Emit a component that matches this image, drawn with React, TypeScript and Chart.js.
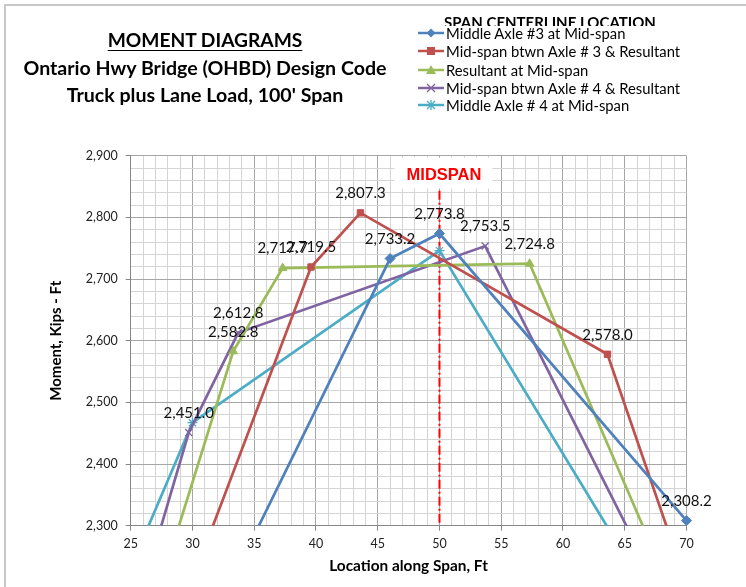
import React, { useEffect, useRef } from 'react';
import { Chart, registerables } from 'chart.js';
Chart.register(...registerables);

// ---- data ----
const SERIES_NAMES = [
  'Middle Axle #3 at Mid-span',
  'Mid-span btwn Axle # 3 & Resultant',
  'Resultant at Mid-span',
  'Mid-span btwn Axle # 4 & Resultant',
  'Middle Axle # 4 at Mid-span',
];
const SERIES_COLORS = ['#4F81BD', '#C0504D', '#9BBB59', '#8064A2', '#4BACC6'];
const SERIES_MARKERS = ['rectRot', 'rect', 'triangle', 'crossRot', 'star'];
const SERIES_LABELED = [true, true, true, true, false];

const AXLE3_X = [34.2, 46, 50, 70];
const AXLE3_Y = [2252, 2733.2, 2773.8, 2308.2];
const MID3_X = [27.8, 39.6, 43.6, 63.6, 83.6];
const MID3_Y = [2096, 2719.5, 2807.3, 2578.0, 1412];
const RESULT_X = [21.5, 33.3, 37.3, 57.3, 77.3];
const RESULT_Y = [1823, 2582.8, 2717.7, 2724.8, 1797];
const MID4_X = [17.9, 29.7, 33.7, 53.7, 73.7];
const MID4_Y = [1649, 2451.0, 2612.8, 2753.5, 1960];
const AXLE4_X = [26, 30, 50, 70];
const AXLE4_Y = [2279, 2467, 2746, 2087];

const SERIES_X = [AXLE3_X, MID3_X, RESULT_X, MID4_X, AXLE4_X];
const SERIES_Y = [AXLE3_Y, MID3_Y, RESULT_Y, MID4_Y, AXLE4_Y];

const X_MIN = 25;
const X_MAX = 70;
const X_MAJOR = 5;
const X_MINOR = 1;
const Y_MIN = 2300;
const Y_MAX = 2900;
const Y_MAJOR = 100;
const Y_MINOR = 20;
const MIDSPAN_X = 50;
const MIDSPAN_TEXT = 'MIDSPAN';

const TITLE_LINES = [
  'MOMENT DIAGRAMS',
  'Ontario Hwy Bridge (OHBD) Design Code',
  "Truck plus Lane Load, 100' Span",
];
const LEGEND_TITLE = 'SPAN CENTERLINE LOCATION';
const X_TITLE = 'Location along Span, Ft';
const Y_TITLE = 'Moment, Kips - Ft';

// ---- layout ----
const W = 746;
const H = 587;
const PLOT_LEFT = 130.7;
const PLOT_TOP = 155.7;
const PLOT_RIGHT = 686.5;
const PLOT_BOTTOM = 525.7;
const FONT = 'Lato, "Open Sans", sans-serif';

const fmt1 = (v: number) =>
  v.toLocaleString('en-US', { minimumFractionDigits: 1, maximumFractionDigits: 1 });

const annotPlugin = {
  id: 'annot',
  beforeDatasetsDraw(chart: any) {
    const { ctx, chartArea, scales } = chart;
    const px = scales.x.getPixelForValue(MIDSPAN_X);
    ctx.save();
    ctx.fillStyle = '#ffffff';
    ctx.fillRect(px - 45, chartArea.top + 2, 98, 31);
    ctx.strokeStyle = '#ff0000';
    ctx.lineWidth = 2;
    ctx.setLineDash([9, 3, 2, 3]);
    ctx.beginPath();
    ctx.moveTo(px, chartArea.top + 35);
    ctx.lineTo(px, chartArea.bottom);
    ctx.stroke();
    ctx.setLineDash([]);
    ctx.fillStyle = '#ff0000';
    ctx.font = 'bold 16.5px "Liberation Sans", Arial, sans-serif';
    ctx.textAlign = 'center';
    ctx.textBaseline = 'middle';
    ctx.fillText(MIDSPAN_TEXT, px + 4.5, chartArea.top + 19.5);
    ctx.restore();
  },
  afterDatasetsDraw(chart: any) {
    const { ctx, scales } = chart;
    ctx.save();
    ctx.fillStyle = '#111';
    ctx.font = `15px ${FONT}`;
    ctx.textAlign = 'center';
    ctx.textBaseline = 'middle';
    chart.data.datasets.forEach((ds: any, i: number) => {
      if (!SERIES_LABELED[i]) return;
      ds.data.forEach((p: any) => {
        if (p.x < X_MIN || p.x > X_MAX || p.y < Y_MIN || p.y > Y_MAX) return;
        const px = scales.x.getPixelForValue(p.x);
        const py = scales.y.getPixelForValue(p.y);
        ctx.fillText(fmt1(p.y), px, py - 19.5);
      });
    });
    ctx.restore();
  },
};

function LegendMarker({ kind, color }: { kind: string; color: string }) {
  const cx = 13, cy = 6;
  let m: any = null;
  if (kind === 'rectRot') m = <polygon points={`${cx},${cy - 4.5} ${cx + 4.5},${cy} ${cx},${cy + 4.5} ${cx - 4.5},${cy}`} fill={color} />;
  else if (kind === 'rect') m = <rect x={cx - 4} y={cy - 4} width={8} height={8} fill={color} />;
  else if (kind === 'triangle') m = <polygon points={`${cx},${cy - 5} ${cx + 5},${cy + 4} ${cx - 5},${cy + 4}`} fill={color} />;
  else if (kind === 'crossRot') m = <path d={`M${cx - 4},${cy - 4}L${cx + 4},${cy + 4}M${cx + 4},${cy - 4}L${cx - 4},${cy + 4}`} stroke={color} strokeWidth={1.3} />;
  else m = <path d={`M${cx - 4},${cy - 4}L${cx + 4},${cy + 4}M${cx + 4},${cy - 4}L${cx - 4},${cy + 4}M${cx},${cy - 5}L${cx},${cy + 5}`} stroke={color} strokeWidth={1.3} />;
  return (
    <svg width={27} height={12} style={{ display: 'block' }}>
      <line x1={0} y1={cy} x2={26} y2={cy} stroke={color} strokeWidth={2.5} />
      {m}
    </svg>
  );
}

export default function App() {
  const ref = useRef<HTMLCanvasElement>(null);
  useEffect(() => {
    const datasets = SERIES_NAMES.map((name, i) => ({
      label: name,
      data: SERIES_X[i].map((x, j) => ({ x, y: SERIES_Y[i][j] })),
      showLine: true,
      borderColor: SERIES_COLORS[i],
      backgroundColor: SERIES_COLORS[i],
      borderWidth: 2.7,
      pointStyle: SERIES_MARKERS[i],
      pointRadius: i === 1 ? 4.5 : 5,
      pointBorderWidth: i >= 3 ? 1.3 : 1,
      pointBorderColor: SERIES_COLORS[i],
      pointBackgroundColor: SERIES_COLORS[i],
      tension: 0,
      clip: i === 0 ? { left: 0, top: 0, right: 8, bottom: 0 } : 0,
    }));
    const majorX = (v: number) => Math.abs(v % X_MAJOR) < 1e-6;
    const majorY = (v: number) => Math.abs(v % Y_MAJOR) < 1e-6;
    const chart = new Chart(ref.current as HTMLCanvasElement, {
      type: 'scatter',
      data: { datasets } as any,
      plugins: [annotPlugin],
      options: {
        responsive: false,
        maintainAspectRatio: false,
        animation: false,
        events: [],
        layout: { padding: { left: 0, top: PLOT_TOP, right: W - PLOT_RIGHT, bottom: 0 } },
        plugins: { legend: { display: false }, tooltip: { enabled: false }, title: { display: false } },
        scales: {
          x: {
            type: 'linear',
            min: X_MIN,
            max: X_MAX,
            afterFit: (s: any) => { s.height = H - PLOT_BOTTOM; },
            ticks: {
              stepSize: X_MINOR,
              autoSkip: false,
              maxRotation: 0,
              minRotation: 0,
              padding: 6,
              color: '#222',
              font: { family: FONT, size: 12.5 },
              callback: (v: any) => (majorX(Number(v)) ? String(v) : ''),
            },
            grid: {
              color: (c: any) => (c.tick && majorX(c.tick.value) ? '#a6a6a6' : '#d4d4d4'),
              tickColor: (c: any) => (c.tick && majorX(c.tick.value) ? '#868686' : 'rgba(0,0,0,0)'),
              tickLength: 5,
              lineWidth: 1,
            },
            border: { color: '#868686', width: 1 },
            title: {
              display: true,
              text: X_TITLE,
              color: '#000',
              font: { family: FONT, size: 15.4, weight: 'bold' },
              padding: { top: 0, bottom: 12 },
            },
          },
          y: {
            type: 'linear',
            min: Y_MIN,
            max: Y_MAX,
            afterFit: (s: any) => { s.width = PLOT_LEFT; },
            ticks: {
              stepSize: Y_MINOR,
              autoSkip: false,
              padding: 8,
              color: '#222',
              font: { family: FONT, size: 12.5 },
              callback: (v: any) => (majorY(Number(v)) ? Number(v).toLocaleString('en-US') : ''),
            },
            grid: {
              color: (c: any) => (c.tick && majorY(c.tick.value) ? '#a6a6a6' : '#d4d4d4'),
              tickColor: (c: any) => (c.tick && majorY(c.tick.value) ? '#868686' : 'rgba(0,0,0,0)'),
              tickLength: 5,
              lineWidth: 1,
            },
            border: { color: '#868686', width: 1 },
            title: {
              display: true,
              text: Y_TITLE,
              color: '#000',
              font: { family: FONT, size: 15, weight: 'bold' },
              padding: { top: 47, bottom: 0 },
            },
          },
        },
      } as any,
    });
    return () => chart.destroy();
  }, []);

  const titleTops = [28, 56, 83];
  const titleStyles: any[] = [
    { fontSize: 19.2, textDecoration: 'underline', textUnderlineOffset: 3 },
    { fontSize: 19.6 },
    { fontSize: 19.6 },
  ];
  const legendTops = [27, 45, 64, 82, 99];

  return (
    <div style={{ position: 'fixed', left: 0, top: 0, width: W, height: H, background: '#fff', overflow: 'hidden', fontFamily: FONT }}>
      <div style={{ position: 'absolute', left: 4, top: 4, right: -10, bottom: -10, borderLeft: '2px solid #c8c8c8', borderTop: '2px solid #c8c8c8' }} />
      <canvas ref={ref} width={W} height={H} style={{ position: 'absolute', left: 0, top: 0, width: W, height: H }} />
      {TITLE_LINES.map((t, i) => (
        <div key={t} style={{ position: 'absolute', left: 0, width: 410, top: titleTops[i], lineHeight: '24px', textAlign: 'center', fontWeight: 700, color: '#000', whiteSpace: 'nowrap', ...titleStyles[i] }}>
          {t}
        </div>
      ))}
      <div style={{ position: 'absolute', left: 430, top: 13, width: 240, height: 13, overflow: 'hidden' }}>
        <div style={{ fontSize: 15, fontWeight: 700, lineHeight: '20px', marginTop: -1, textAlign: 'center', color: '#000', whiteSpace: 'nowrap' }}>{LEGEND_TITLE}</div>
      </div>
      {SERIES_NAMES.map((n, i) => (
        <div key={n} style={{ position: 'absolute', left: 418, top: legendTops[i], height: 12, display: 'flex', alignItems: 'center', whiteSpace: 'nowrap' }}>
          <LegendMarker kind={SERIES_MARKERS[i]} color={SERIES_COLORS[i]} />
          <span style={{ fontSize: 14.8, color: '#000', marginLeft: 1, lineHeight: '12px' }}>{n}</span>
        </div>
      ))}
    </div>
  );
}
